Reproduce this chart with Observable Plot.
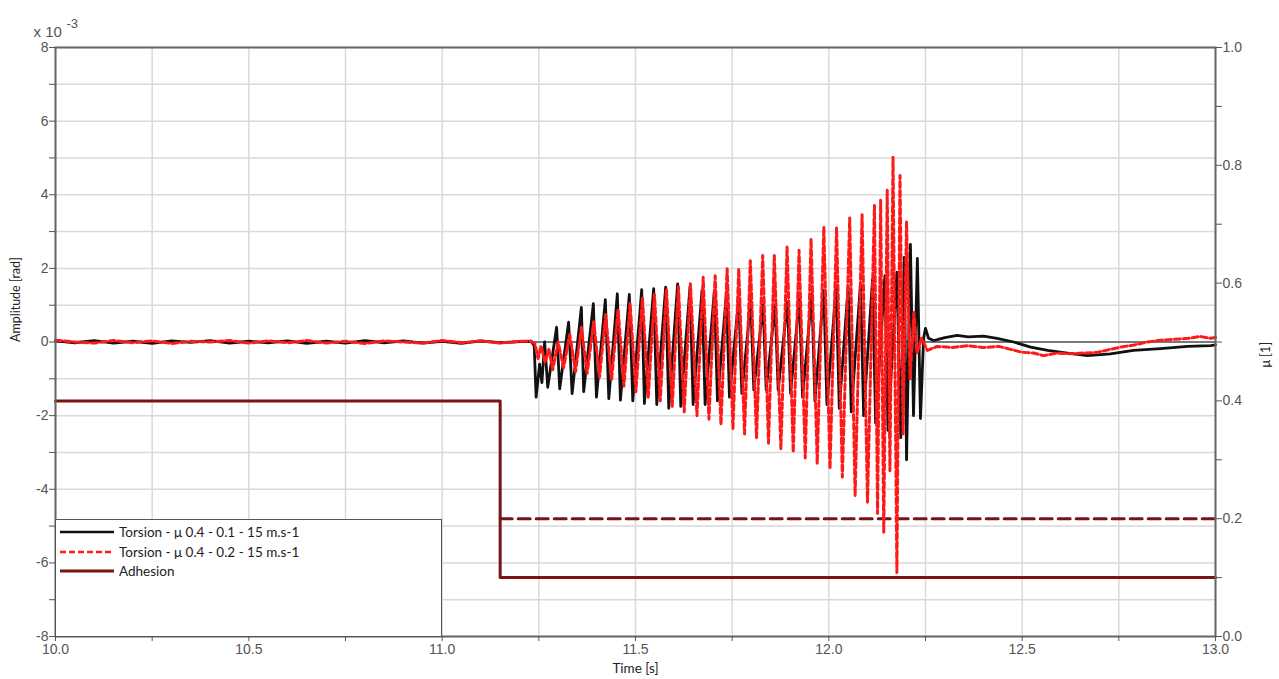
<!DOCTYPE html>
<html><head><meta charset="utf-8">
<script src="https://cdn.jsdelivr.net/npm/d3@7"></script>
<script src="https://cdn.jsdelivr.net/npm/@observablehq/plot@0.6"></script>
<style>
body{margin:0;background:#fff;}
#wrap{position:relative;width:1279px;height:679px;overflow:hidden;}
#legend{position:absolute;left:55px;top:519px;width:387px;height:118px;background:#fff;border:1.5px solid #555;box-sizing:border-box;font-family:Lato, "Open Sans", sans-serif;font-size:13.5px;color:#222;}
#legend .row{position:absolute;left:4px;height:18px;display:flex;align-items:center;}
#legend .row span{margin-left:5px;}
</style></head>
<body><div id="wrap"><div id="chart"></div><div id="legend"></div></div>
<script>
// ---- tick values ----
const xTicks = [10, 10.25, 10.5, 10.75, 11, 11.25, 11.5, 11.75, 12, 12.25, 12.5, 12.75, 13];
const yTicks = [-8, -7, -6, -5, -4, -3, -2, -1, 0, 1, 2, 3, 4, 5, 6, 7, 8];
const muTicks = [0, 0.1, 0.2, 0.3, 0.4, 0.5, 0.6, 0.7, 0.8, 0.9, 1.0];

// ---- quiet part (before oscillation) ----
const quietT = [10.00,10.05,10.10,10.15,10.20,10.25,10.30,10.35,10.40,10.45,10.50,10.55,10.60,10.65,10.70,10.75,10.80,10.85,10.90,10.95,11.00,11.05,11.10,11.15,11.20];
const blackQuietV = [0.03,-0.02,0.04,-0.03,0.02,-0.04,0.03,-0.01,0.04,-0.03,0.02,-0.02,0.03,-0.04,0.02,-0.03,0.04,-0.02,0.03,-0.03,0.02,-0.04,0.03,-0.02,0.01];
const redQuietV = [0.05,0.00,-0.03,0.04,-0.02,0.03,-0.04,0.02,0.00,0.04,-0.03,0.03,-0.02,0.04,-0.03,0.02,-0.04,0.03,0.00,-0.03,0.04,-0.02,0.03,-0.03,0.02];

// ---- Torsion μ 0.4 - 0.1 (black), ×1e-3 rad ----
const blackT = [11.230,11.238,11.243,11.252,11.258,11.265,11.273,11.296,11.304,11.327,11.336,11.360,11.366,11.391,11.399,11.422,11.431,11.453,11.461,11.484,11.493,11.516,11.523,11.547,11.555,11.578,11.586,11.609,11.617,11.641,11.649,11.672,11.680,11.704,11.712,11.735,11.743,11.767,11.775,11.798,11.806,11.830,11.838,11.861,11.869,11.893,11.901,11.924,11.932,11.956,11.964,11.987,11.995,12.019,12.027,12.050,12.058,12.082,12.090,12.113,12.121,12.145,12.153,12.176,12.186,12.195,12.201,12.211,12.219,12.229,12.237,12.245,12.250,12.258,12.271,12.300,12.332,12.360,12.400,12.435,12.478,12.522,12.566,12.617,12.669,12.728,12.788,12.858,12.928,12.987,13.000];
const blackV = [0.02,-0.1,-1.5,-0.6,-1.1,0.0,-1.23,0.4,-1.27,0.54,-1.4,0.94,-1.35,1.04,-1.5,1.15,-1.54,1.31,-1.58,1.29,-1.6,1.42,-1.67,1.45,-1.7,1.49,-1.8,1.58,-1.75,1.5,-1.7,1.4,-1.7,1.4,-1.6,1.3,-1.5,1.2,-1.4,1.1,-1.3,1.0,-1.3,1.0,-1.3,1.1,-1.4,1.2,-1.5,1.3,-1.6,1.4,-1.7,1.5,-1.8,1.5,-1.9,1.6,-2.0,1.7,-2.2,1.8,-2.4,1.9,-2.6,2.3,-3.2,2.65,-2.0,2.27,-2.08,0.1,0.37,0.1,0.04,0.12,0.18,0.14,0.16,0.1,0.0,-0.14,-0.23,-0.3,-0.37,-0.32,-0.23,-0.18,-0.12,-0.1,-0.08];

// ---- Torsion μ 0.4 - 0.2 (red dashed), ×1e-3 rad ----
const redT = [11.230,11.240,11.248,11.256,11.266,11.276,11.286,11.300,11.314,11.330,11.345,11.360,11.375,11.392,11.407,11.423,11.438,11.455,11.470,11.486,11.501,11.518,11.533,11.549,11.564,11.580,11.595,11.611,11.626,11.642,11.659,11.675,11.690,11.706,11.721,11.737,11.752,11.767,11.782,11.797,11.813,11.829,11.844,11.859,11.876,11.892,11.908,11.923,11.939,11.954,11.970,11.987,12.003,12.020,12.035,12.054,12.068,12.086,12.100,12.118,12.126,12.134,12.142,12.151,12.158,12.166,12.176,12.184,12.192,12.201,12.210,12.220,12.228,12.240,12.255,12.280,12.320,12.360,12.400,12.440,12.470,12.500,12.530,12.555,12.590,12.625,12.660,12.695,12.720,12.754,12.790,12.824,12.860,12.891,12.930,12.961,12.987,13.000];
const redV = [0.02,-0.05,-0.45,-0.1,-0.55,-0.2,-0.75,0.0,-0.7,0.2,-0.8,0.4,-0.85,0.55,-0.95,0.75,-1.05,0.9,-1.2,1.05,-1.35,1.2,-1.5,1.3,-1.6,1.45,-1.75,1.5,-1.9,1.58,-2.0,1.76,-2.1,1.8,-2.25,1.99,-2.35,1.99,-2.5,2.21,-2.6,2.35,-2.75,2.35,-2.9,2.58,-3.0,2.49,-3.15,2.8,-3.3,3.12,-3.45,3.1,-3.67,3.37,-4.17,3.46,-4.35,3.71,-4.66,3.85,-5.17,4.12,-3.5,5.02,-6.26,4.52,-2.5,3.26,-1.0,0.8,-0.3,0.1,-0.23,-0.12,-0.15,-0.1,-0.15,-0.12,-0.2,-0.28,-0.3,-0.37,-0.3,-0.32,-0.3,-0.28,-0.22,-0.14,-0.08,0.0,0.05,0.07,0.1,0.15,0.1,0.12];

// ---- Adhesion μ (right axis) ----
const adhesionT = [10.0, 11.15, 11.15, 13.0];
const adhesionMu = [0.4, 0.4, 0.1, 0.1];
const adhesion2T = [11.15, 13.0];
const adhesion2Mu = [0.2, 0.2];

// build rows
const blackRows = quietT.map((t,i)=>({t, v: blackQuietV[i]})).concat(blackT.map((t,i)=>({t, v: blackV[i]})));
const redRows = quietT.map((t,i)=>({t, v: redQuietV[i]})).concat(redT.map((t,i)=>({t, v: redV[i]})));
const adhRows = adhesionT.map((t,i)=>({t, mu: adhesionMu[i]}));
const adh2Rows = adhesion2T.map((t,i)=>({t, mu: adhesion2Mu[i]}));
const muToY = m => -8 + 16 * m;

const axisCol = "#555";
const chart = Plot.plot({
  width: 1279, height: 679,
  marginLeft: 55, marginRight: 64, marginTop: 47, marginBottom: 43,
  style: {fontFamily: "'Liberation Sans', Arial, sans-serif", fontSize: "14px", background: "#fff"},
  x: {domain: [10, 13], label: null},
  y: {domain: [-8, 8], label: null},
  marks: [
    Plot.gridX(xTicks, {stroke: "#d9d9d9", strokeOpacity: 1, strokeWidth: 1.5}),
    Plot.gridY(yTicks, {stroke: "#d9d9d9", strokeOpacity: 1, strokeWidth: 1.5}),
    Plot.ruleY([0], {stroke: "#555", strokeWidth: 1.5}),
    Plot.line(adhRows, {x: "t", y: d => muToY(d.mu), stroke: "#7a1414", strokeWidth: 3}),
    Plot.line(adh2Rows, {x: "t", y: d => muToY(d.mu), stroke: "#7a1414", strokeWidth: 3, strokeDasharray: "12,6"}),
    Plot.line(blackRows, {x: "t", y: "v", stroke: "#111", strokeWidth: 2.8}),
    Plot.line(redRows, {x: "t", y: "v", stroke: "#ff1a1a", strokeWidth: 3, strokeDasharray: "6,3"}),
    Plot.frame({stroke: "#666", strokeWidth: 2}),
    Plot.axisX(xTicks, {tickFormat: v => (v * 2) % 1 === 0 ? v.toFixed(1) : "", tickSize: 5, tickPadding: 3, stroke: axisCol, fill: axisCol, label: null}),
    Plot.axisY(yTicks, {anchor: "left", tickFormat: v => v % 2 === 0 ? String(v) : "", tickSize: 6, tickPadding: 1, stroke: axisCol, fill: axisCol, label: null}),
    Plot.axisY(muTicks.map(muToY), {anchor: "right", tickFormat: v => { const m = Math.round((v + 8) / 16 * 10); return m % 2 === 0 ? (m / 10).toFixed(1) : ""; }, tickSize: 6, tickPadding: 1, stroke: axisCol, fill: axisCol, label: null}),
    Plot.text(["x 10"], {frameAnchor: "top-left", dx: -22, dy: -21, textAnchor: "start", fill: "#555", fontSize: 15}),
    Plot.text(["-3"], {frameAnchor: "top-left", dx: 11, dy: -29, textAnchor: "start", fill: "#555", fontSize: 13}),
    Plot.text(["Amplitude [rad]"], {frameAnchor: "left", dx: -40, rotate: -90, fill: "#222", fontSize: 12.5, fontFamily: "Lato, sans-serif"}),
    Plot.text(["μ [1]"], {frameAnchor: "right", dx: 50, rotate: -90, fill: "#222", fontSize: 12.5, fontFamily: "Lato, sans-serif"}),
    Plot.text(["Time [s]"], {frameAnchor: "bottom", dy: 36, fill: "#222", fontSize: 13.5, fontFamily: "Lato, sans-serif"})
  ]
});
document.getElementById("chart").appendChild(chart);

// legend
const legendItems = [
  {label: "Torsion - μ 0.4 - 0.1 - 15 m.s-1", color: "#111", dash: null, w: 2.4},
  {label: "Torsion - μ 0.4 - 0.2 - 15 m.s-1", color: "#ff1a1a", dash: "6,3", w: 2.4},
  {label: "Adhesion", color: "#7a1414", dash: null, w: 3}
];
const leg = document.getElementById("legend");
legendItems.forEach((it, i) => {
  const row = document.createElement("div");
  row.className = "row";
  row.style.top = (3 + i * 19.5) + "px";
  row.innerHTML = `<svg width="54" height="6"><line x1="0" x2="54" y1="3" y2="3" stroke="${it.color}" stroke-width="${it.w}" ${it.dash ? `stroke-dasharray="${it.dash}"` : ""}/></svg><span>${it.label}</span>`;
  leg.appendChild(row);
});
</script></body></html>
